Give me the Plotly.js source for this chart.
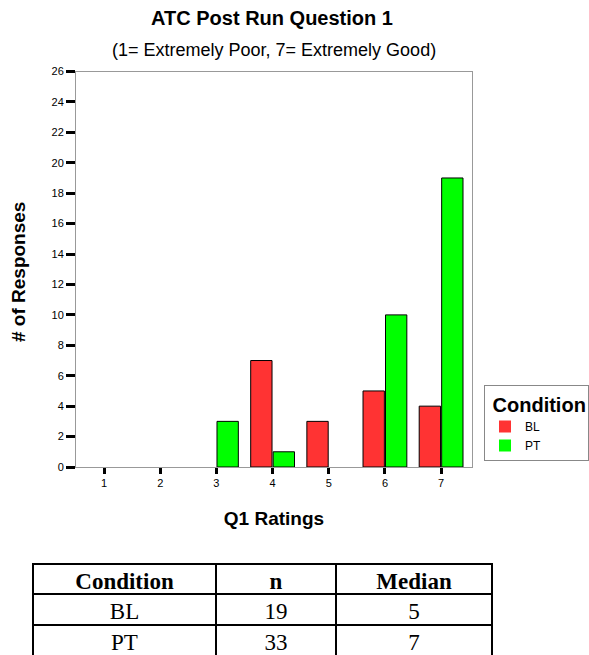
<!DOCTYPE html>
<html>
<head>
<meta charset="utf-8">
<script src="https://cdn.plot.ly/plotly-3.0.1.min.js"></script>
<style>
html,body{margin:0;padding:0;overflow:hidden;background:#fff;}
#chart{width:589px;height:700px;}
</style>
</head>
<body>
<div id="chart"></div>
<script>
// Data
const ratings = [1, 2, 3, 4, 5, 6, 7];
const tickLabels = ['1', '2', '3', '4', '5', '6', '7'];
const blCounts = [0, 0, 0, 7, 3, 5, 4];
const ptCounts = [0, 0, 3, 1, 0, 10, 19];
const seriesNames = ['BL', 'PT'];
const tableHeader = ['Condition', 'n', 'Median'];
const tableConditions = ['BL', 'PT'];
const tableN = ['19', '33'];
const tableMedian = ['5', '7'];

const W = 589, H = 700;
const px = x => x / W;
const py = y => (H - y) / H;

const sans = 'Arial, "Liberation Sans", sans-serif';
const serif = '"Times New Roman", "Liberation Serif", serif';

// zero-count bars get no outline so nothing is drawn for them
const outline = vals => vals.map(v => (v > 0 ? 1 : 0));

const traces = [
  {
    type: 'bar', name: seriesNames[0], x: ratings, y: blCounts,
    marker: {color: '#ff3333', line: {color: '#000', width: outline(blCounts)}},
    hoverinfo: 'x+y+name'
  },
  {
    type: 'bar', name: seriesNames[1], x: ratings, y: ptCounts,
    marker: {color: '#00ff00', line: {color: '#000', width: outline(ptCounts)}},
    hoverinfo: 'x+y+name'
  },
  {
    type: 'table',
    domain: {x: [px(33), px(492)], y: [0, py(564)]},
    columnwidth: [183, 120, 156],
    header: {
      values: tableHeader,
      align: 'center', height: 30,
      line: {color: '#000', width: 2},
      fill: {color: '#fff'},
      font: {family: serif, size: 23, color: '#000', weight: 'bold'}
    },
    cells: {
      values: [tableConditions, tableN, tableMedian],
      align: 'center', height: 31,
      line: {color: '#000', width: 2},
      fill: {color: '#fff'},
      font: {family: serif, size: 23, color: '#000'}
    }
  }
];

const layout = {
  width: W, height: H,
  margin: {l: 0, r: 0, t: 0, b: 0, autoexpand: false},
  paper_bgcolor: '#fff', plot_bgcolor: '#fff',
  font: {family: sans, color: '#000'},
  title: {
    text: '<b>ATC Post Run Question 1</b>',
    font: {family: sans, size: 20, color: '#000'},
    x: px(272), xanchor: 'center', xref: 'paper',
    yref: 'container', y: 1 - 18 / H, yanchor: 'middle'
  },
  barmode: 'group', bargap: 0.2, bargroupgap: 0.05,
  showlegend: true,
  legend: {
    x: px(484), y: py(385), xanchor: 'left', yanchor: 'top',
    bordercolor: '#888', borderwidth: 1, bgcolor: '#fff',
    title: {text: '&nbsp;<b>Condition</b>', font: {family: sans, size: 20, color: '#000'}},
    font: {family: sans, size: 12, color: '#000'},
    traceorder: 'normal'
  },
  xaxis: {
    domain: [px(76), px(472)],
    range: [0.5, 7.55],
    tickmode: 'array', tickvals: ratings, ticktext: tickLabels,
    ticks: 'outside', ticklen: 6, tickwidth: 3, tickcolor: '#000',
    showline: true, linecolor: '#999', linewidth: 1, mirror: true,
    showgrid: false, zeroline: false,
    tickfont: {family: sans, size: 11, color: '#000'},
    title: {text: '<b>Q1 Ratings</b>', font: {family: sans, size: 19, color: '#000'}, standoff: 23},
    fixedrange: true
  },
  yaxis: {
    domain: [py(467), py(71.5)],
    range: [0, 26],
    tickmode: 'linear', tick0: 0, dtick: 2,
    ticks: 'outside', ticklen: 9, tickwidth: 3, tickcolor: '#000',
    showline: true, linecolor: '#999', linewidth: 1, mirror: true,
    showgrid: false, zeroline: false,
    tickfont: {family: sans, size: 11, color: '#000'},
    fixedrange: true
  },
  annotations: [
    {
      text: '(1= Extremely Poor, 7= Extremely Good)',
      xref: 'paper', yref: 'paper', x: px(274), y: py(50),
      xanchor: 'center', yanchor: 'middle', showarrow: false,
      font: {family: sans, size: 18, color: '#000'}
    },
    {
      text: '<b># of Responses</b>',
      xref: 'paper', yref: 'paper', x: px(18), y: py(272),
      xanchor: 'center', yanchor: 'middle', showarrow: false, textangle: -90,
      font: {family: sans, size: 19, color: '#000'}
    }
  ]
};

Plotly.newPlot('chart', traces, layout, {displayModeBar: false, staticPlot: true});
</script>
</body>
</html>
